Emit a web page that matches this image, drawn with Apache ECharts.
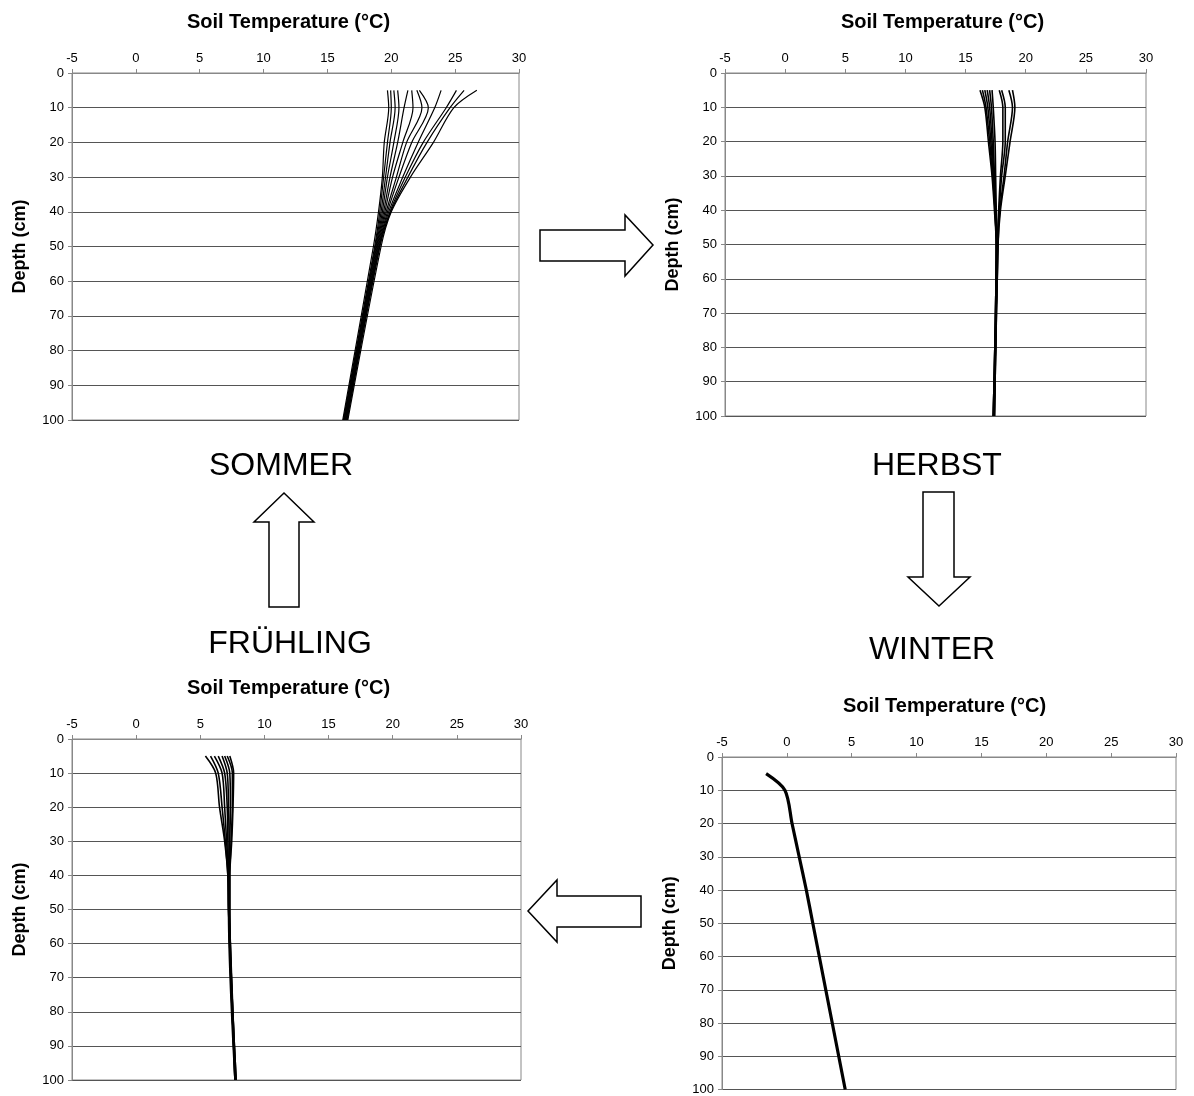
<!DOCTYPE html>
<html>
<head>
<meta charset="utf-8">
<script src="https://cdn.jsdelivr.net/npm/echarts@6/dist/echarts.min.js"></script>
<style>html,body{margin:0;padding:0;background:#fff}#c{width:1194px;height:1096px}</style>
</head>
<body>
<div id="c"></div>
<script>
// Depths (cm) at which temperatures were read
const depths = [5, 10, 20, 30, 40, 50, 100];
const xTicks = [-5, 0, 5, 10, 15, 20, 25, 30];
const yTicks = [0, 10, 20, 30, 40, 50, 60, 70, 80, 90, 100];

// Temperature profiles (°C) at the depths above
const sommer = [
  [19.7, 19.8, 19.45, 19.3, 19.0, 18.6, 16.2],
  [19.95, 20.0, 19.7, 19.4, 19.1, 18.7, 16.25],
  [20.2, 20.3, 19.9, 19.55, 19.2, 18.75, 16.3],
  [20.5, 20.6, 20.2, 19.7, 19.3, 18.8, 16.3],
  [21.3, 21.0, 20.5, 19.9, 19.4, 18.85, 16.35],
  [21.6, 21.7, 20.9, 20.1, 19.5, 18.9, 16.4],
  [22.0, 22.4, 21.2, 20.4, 19.6, 18.95, 16.4],
  [22.2, 22.9, 21.6, 20.6, 19.7, 19.0, 16.45],
  [23.9, 23.4, 22.1, 20.9, 19.8, 19.05, 16.5],
  [25.1, 24.3, 22.5, 21.1, 19.9, 19.1, 16.5],
  [25.7, 24.6, 22.8, 21.3, 19.95, 19.1, 16.55],
  [26.7, 24.9, 23.3, 21.5, 20.0, 19.2, 16.6]
];
const herbst = [
  [16.2, 16.6, 16.9, 17.2, 17.4, 17.55, 17.3],
  [16.4, 16.7, 17.0, 17.25, 17.45, 17.55, 17.3],
  [16.6, 16.85, 17.1, 17.3, 17.45, 17.55, 17.3],
  [16.8, 17.0, 17.2, 17.35, 17.5, 17.6, 17.35],
  [17.0, 17.15, 17.3, 17.4, 17.5, 17.6, 17.35],
  [17.2, 17.3, 17.45, 17.5, 17.55, 17.6, 17.35],
  [17.8, 18.1, 18.1, 17.9, 17.75, 17.65, 17.35],
  [18.0, 18.3, 18.3, 18.0, 17.8, 17.65, 17.4],
  [18.6, 18.9, 18.5, 18.2, 17.85, 17.7, 17.4],
  [18.9, 19.1, 18.7, 18.3, 17.9, 17.7, 17.4]
];
const fruehling = [
  [5.4, 6.2, 6.5, 6.9, 7.15, 7.2, 7.7],
  [5.8, 6.4, 6.7, 6.95, 7.15, 7.2, 7.7],
  [6.1, 6.7, 6.9, 7.05, 7.2, 7.2, 7.7],
  [6.4, 6.9, 7.1, 7.15, 7.2, 7.25, 7.75],
  [6.7, 7.1, 7.2, 7.25, 7.25, 7.25, 7.75],
  [6.9, 7.3, 7.35, 7.3, 7.25, 7.25, 7.75],
  [7.1, 7.5, 7.5, 7.4, 7.3, 7.3, 7.8],
  [7.3, 7.6, 7.55, 7.45, 7.3, 7.3, 7.8]
];
const winter = [
  [-1.6, -0.15, 0.4, 0.95, 1.5, 2.0, 4.5]
];

const panels = [
  {name: 'SOMMER', data: sommer, grid: {left: 72, top: 73, width: 447, height: 347}, lw: 1.2, pad: [0, 14, 0, 0]},
  {name: 'HERBST', data: herbst, grid: {left: 725, top: 73, width: 421, height: 343}, lw: 1.6, pad: [0, 0, 0, 14]},
  {name: 'FRÜHLING', data: fruehling, grid: {left: 72, top: 739, width: 449, height: 341}, lw: 1.6, pad: [0, 16, 0, 0]},
  {name: 'WINTER', data: winter, grid: {left: 722, top: 757, width: 454, height: 333}, lw: 3.2, pad: [0, 9, 0, 0]}
];

const FONT = '"Liberation Sans", Arial, sans-serif';
const grids = [], xAxes = [], yAxes = [], series = [];
panels.forEach((p, gi) => {
  grids.push(Object.assign({show: true, borderColor: '#888', borderWidth: 1, containLabel: false}, p.grid));
  xAxes.push({
    gridIndex: gi, type: 'value', position: 'top', min: xTicks[0], max: xTicks[xTicks.length - 1], interval: 5,
    name: 'Soil Temperature (°C)', nameLocation: 'middle', nameGap: 41,
    nameTextStyle: {fontFamily: FONT, fontWeight: 'bold', fontSize: 20, color: '#000', padding: p.pad},
    axisLine: {show: true, onZero: false, lineStyle: {color: '#888', width: 1}},
    axisTick: {show: true, inside: false, length: 4, lineStyle: {color: '#888'}},
    axisLabel: {fontFamily: FONT, fontSize: 13, color: '#000', margin: 8},
    splitLine: {show: false}
  });
  yAxes.push({
    gridIndex: gi, type: 'value', inverse: true, min: yTicks[0], max: yTicks[yTicks.length - 1], interval: 10,
    name: 'Depth (cm)', nameLocation: 'middle', nameGap: 43, nameRotate: 90,
    nameTextStyle: {fontFamily: FONT, fontWeight: 'bold', fontSize: 18, color: '#000'},
    axisLine: {show: true, onZero: false, lineStyle: {color: '#888', width: 1}},
    axisTick: {show: true, inside: false, length: 4, lineStyle: {color: '#888'}},
    axisLabel: {fontFamily: FONT, fontSize: 13, color: '#000', margin: 8},
    splitLine: {show: true, lineStyle: {color: '#555', width: 1}}
  });
  p.data.forEach((temps) => {
    series.push({
      type: 'line', xAxisIndex: gi, yAxisIndex: gi, smooth: 0.3, symbol: 'none',
      lineStyle: {color: '#000', width: p.lw}, silent: true, animation: false,
      data: depths.map((d, i) => [temps[i], d])
    });
  });
});

function txt(x, y, s) {
  return {type: 'text', x: x, y: y, style: {text: s, fontFamily: FONT, fontSize: 32, fill: '#000', align: 'center', verticalAlign: 'middle'}};
}
function poly(pts) {
  return {type: 'polygon', shape: {points: pts}, style: {fill: '#fff', stroke: '#000', lineWidth: 1.5}};
}

const graphics = [
  txt(281, 466, 'SOMMER'),
  txt(937, 466, 'HERBST'),
  txt(290, 644, 'FRÜHLING'),
  txt(932, 650, 'WINTER'),
  poly([[540, 230], [625, 230], [625, 215], [653, 245], [625, 276], [625, 261], [540, 261]]),
  poly([[269, 607], [269, 522], [254, 522], [284, 493], [314, 522], [299, 522], [299, 607]]),
  poly([[923, 492], [954, 492], [954, 577], [970, 577], [939, 606], [908, 577], [923, 577]]),
  poly([[641, 896], [557, 896], [557, 880], [528, 911], [557, 942], [557, 927], [641, 927]])
];

const chart = echarts.init(document.getElementById('c'), null, {renderer: 'canvas'});
chart.setOption({
  backgroundColor: '#fff',
  animation: false,
  grid: grids, xAxis: xAxes, yAxis: yAxes, series: series,
  graphic: graphics
});
</script>
</body>
</html>
